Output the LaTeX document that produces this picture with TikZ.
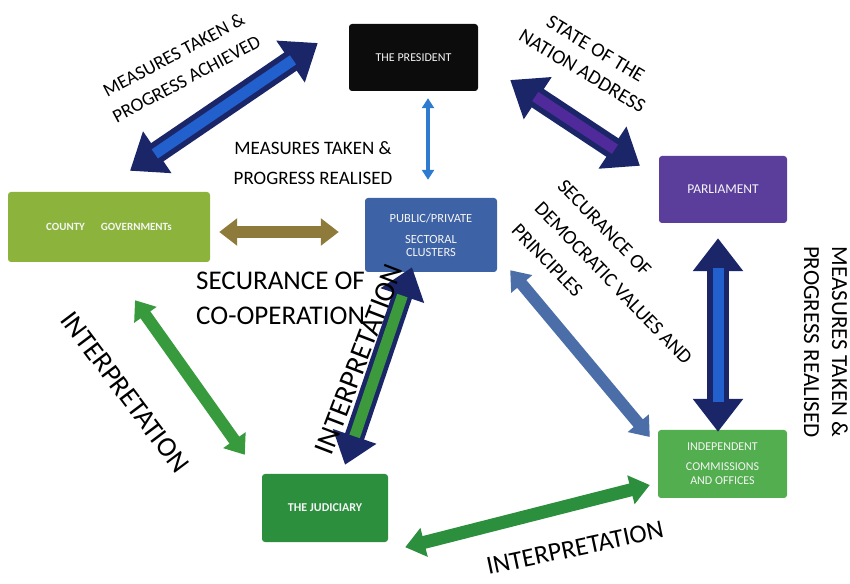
\documentclass[tikz,border=0pt]{standalone}
\usepackage{fontspec}
\setmainfont{Carlito}
\usetikzlibrary{arrows.meta, positioning, calc}

\definecolor{presblack}{RGB}{12,12,12}
\definecolor{countygreen}{RGB}{140,180,60}
\definecolor{pubblue}{RGB}{61,98,166}
\definecolor{parlpurple}{RGB}{91,62,156}
\definecolor{indepgreen}{RGB}{82,174,79}
\definecolor{judgreen}{RGB}{44,143,62}
\definecolor{arrownavy}{RGB}{27,38,105}
\definecolor{innerblue}{RGB}{34,96,205}
\definecolor{innerpurple}{RGB}{80,42,154}
\definecolor{innergreen}{RGB}{60,154,60}
\definecolor{lightblue}{RGB}{46,123,208}
\definecolor{olive}{RGB}{142,123,60}
\definecolor{steelblue}{RGB}{75,110,169}
\definecolor{arrowgreen}{RGB}{55,155,62}

\tikzset{
  box/.style={rounded corners=3pt, text=white!92!gray, align=center, inner sep=0pt},
  dbl/.style={{Triangle[length=0pt 1.5, width=0pt 2.2]}-{Triangle[length=0pt 1.5, width=0pt 2.2]}},
  flat/.style={draw=#1, dbl},
  outlined/.style={draw=arrownavy, line width=22pt, dbl,
    postaction={draw=#1, line width=11pt, -, shorten <=30pt, shorten >=30pt}},
  lbl/.style={text=black, align=center, inner sep=0pt}
}

\begin{document}
\begin{tikzpicture}[x=1pt,y=1pt]

\useasboundingbox (0,0) rectangle (850,583);

% boxes
\node[box, fill=presblack, minimum width=129pt, minimum height=67pt, font=\fontsize{12}{14}\selectfont] (pres) at (413.5,525.5) {THE PRESIDENT};
\node[box, fill=countygreen, minimum width=202pt, minimum height=70pt, font=\fontsize{11}{13}\selectfont\bfseries] (county) at (109,356) {COUNTY\hspace{16pt}GOVERNMENTs};
\node[box, fill=pubblue, minimum width=132pt, minimum height=74pt, font=\fontsize{12.5}{12.5}\selectfont] (pub) at (431,348) {PUBLIC/PRIVATE\\[9pt]SECTORAL\\CLUSTERS};
\node[box, fill=parlpurple, minimum width=128pt, minimum height=67pt, font=\fontsize{13.5}{15}\selectfont] (parl) at (723,393.5) {PARLIAMENT};
\node[box, fill=indepgreen, minimum width=129pt, minimum height=68pt, font=\fontsize{12}{14}\selectfont] (indep) at (722.5,119) {INDEPENDENT\\[6pt]COMMISSIONS\\AND OFFICES};
\node[box, fill=judgreen, minimum width=126pt, minimum height=68pt, font=\fontsize{12}{13}\selectfont\bfseries] (jud) at (325,75) {THE JUDICIARY};

% connectors
\draw[outlined=innerblue] ([shift={(21,21)}]county.north) -- ([shift={(-31,14.5)}]pres.west);
\draw[draw=lightblue, line width=4pt, {Triangle[length=10pt, width=12pt]}-{Triangle[length=10pt, width=12pt]}] ([shift={(14.5,-7)}]pres.south) -- ([shift={(-3,18)}]pub.north);
\draw[outlined=innerpurple] ([shift={(32,-22.5)}]pres.east) -- ([shift={(-83,-10)}]parl.north);
\draw[flat=olive, line width=12pt] ([shift={(9,-5)}]county.east) -- ([shift={(-26,3)}]pub.west);
\draw[outlined=innerblue] ([shift={(-5,-15)}]parl.south) -- ([shift={(-4.5,-2)}]indep.north);
\draw[flat=steelblue, line width=12pt] ([shift={(13,2)}]pub.south east) -- ([shift={(-8,27)}]indep.west);
\draw[flat=arrowgreen, line width=12pt] ([shift={(26,-38)}]county.south) -- ([shift={(-17,19)}]jud.north west);
\draw[outlined=innergreen, line width=20pt] ([shift={(-19,5)}]pub.south) -- ([shift={(20,9)}]jud.north);
\draw[flat=judgreen, line width=13pt] ([shift={(17,-5)}]jud.south east) -- ([shift={(-8,-21)}]indep.west);

% labels
\node[lbl, rotate=28, font=\fontsize{19}{27}\selectfont] (lachieved) at (180,516) {MEASURES TAKEN \&\\PROGRESS ACHIEVED};
\node[lbl, font=\fontsize{19}{30}\selectfont] (lrealised) at (313,420) {MEASURES TAKEN \&\\PROGRESS REALISED};
\node[lbl, rotate=-31, font=\fontsize{20}{26}\selectfont] (lnation) at (589,523) {STATE OF THE\\NATION ADDRESS};
\node[lbl, anchor=west, align=left, font=\fontsize{27}{35}\selectfont] (lcoop) at (196,285) {SECURANCE OF\\CO-OPERATION};
\node[lbl, anchor=west, align=left, rotate=-46, font=\fontsize{20}{32}\selectfont] (ldemo) at (538,378) {SECURANCE OF\\DEMOCRATIC VALUES AND\\PRINCIPLES};
\node[lbl, rotate=-90, font=\fontsize{23}{28}\selectfont] (lright) at (826,241) {MEASURES TAKEN \&\\PROGRESS REALISED};
\node[lbl, rotate=-53, font=\fontsize{28}{30}\selectfont] (linterleft) at (125,191) {INTERPRETATION};
\node[lbl, rotate=69, font=\fontsize{29}{30}\selectfont] (lintermid) at (359,224) {INTERPRETATION};
\node[lbl, rotate=12, font=\fontsize{26}{28}\selectfont] (linterbot) at (575,35) {INTERPRETATION};

\end{tikzpicture}
\end{document}
